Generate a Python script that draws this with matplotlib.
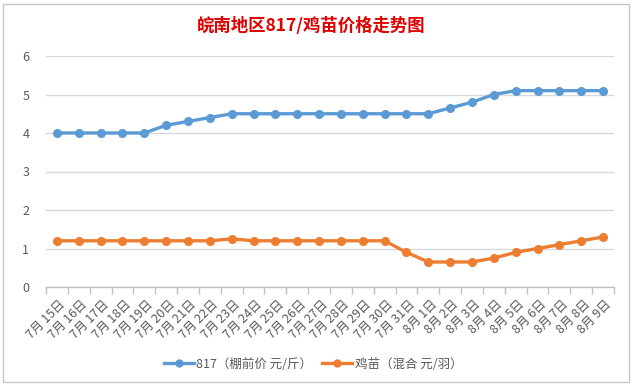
import matplotlib
matplotlib.use("Agg")
import matplotlib.pyplot as plt
import matplotlib.transforms as mtransforms
from matplotlib.patches import Rectangle
from matplotlib.lines import Line2D

plt.rcParams['font.family'] = ['Noto Sans CJK SC', 'DejaVu Sans']

categories = ["7月 15日", "7月 16日", "7月 17日", "7月 18日", "7月 19日", "7月 20日", "7月 21日",
              "7月 22日", "7月 23日", "7月 24日", "7月 25日", "7月 26日", "7月 27日", "7月 28日",
              "7月 29日", "7月 30日", "7月 31日", "8月 1日", "8月 2日", "8月 3日", "8月 4日",
              "8月 5日", "8月 6日", "8月 7日", "8月 8日", "8月 9日"]
price_817 = [4.0, 4.0, 4.0, 4.0, 4.0, 4.2, 4.3, 4.4, 4.5, 4.5, 4.5, 4.5, 4.5, 4.5,
             4.5, 4.5, 4.5, 4.5, 4.65, 4.8, 5.0, 5.1, 5.1, 5.1, 5.1, 5.1]
price_chick = [1.2, 1.2, 1.2, 1.2, 1.2, 1.2, 1.2, 1.2, 1.25, 1.2, 1.2, 1.2, 1.2, 1.2,
               1.2, 1.2, 0.9, 0.65, 0.65, 0.65, 0.75, 0.9, 1.0, 1.1, 1.2, 1.3]
series_names = ["817（棚前价 元/斤）", "鸡苗（混合 元/羽）"]
y_ticks = [0, 1, 2, 3, 4, 5, 6]
title = "皖南地区817/鸡苗价格走势图"

W, H = 633, 387
fig = plt.figure(figsize=(W / 100, H / 100), dpi=100)
fig.patch.set_facecolor("white")

# chart border
fig.add_artist(Rectangle((3 / W, 1 - 382 / H), 626 / W, 378 / H, transform=fig.transFigure,
                         fill=False, edgecolor="#C8C8C8", linewidth=1.0))

ax = fig.add_axes([46 / W, 1 - 287 / H, 568 / W, 231 / H])
x = list(range(len(categories)))
blue = "#5B9BD5"
orange = "#ED7D31"
ax.plot(x, price_817, color=blue, linewidth=2.4, marker="o", markersize=5.5, zorder=3)
ax.plot(x, price_chick, color=orange, linewidth=2.4, marker="o", markersize=5.5, zorder=3)

ax.set_xlim(-0.5, len(categories) - 0.5)
ax.set_ylim(0, 6)
ax.set_yticks(y_ticks)
ax.set_yticklabels([str(v) for v in y_ticks], fontsize=9, color="#595959")
ax.tick_params(axis="y", length=0, pad=12)
ax.grid(axis="y", color="#D9D9D9", linewidth=1.0)
ax.set_axisbelow(True)
for s in ["top", "right", "left"]:
    ax.spines[s].set_visible(False)
ax.spines["bottom"].set_color("#BFBFBF")
ax.spines["bottom"].set_linewidth(1.0)

ax.set_xticks(x)
ax.set_xticklabels(categories, rotation=45, ha="right", va="top", rotation_mode="anchor",
                   fontsize=9, color="#595959")
ax.tick_params(axis="x", length=0, pad=8)
offset = mtransforms.ScaledTranslation(2 / 100, 0, fig.dpi_scale_trans)
for lbl in ax.get_xticklabels():
    lbl.set_transform(lbl.get_transform() + offset)
ax.set_xticks([i - 0.5 for i in range(len(categories) + 1)], minor=True)
ax.tick_params(axis="x", which="minor", length=5, color="#BFBFBF", width=1.0)

fig.text(311 / W, 1 - 26 / H, title, ha="center", va="center", fontsize=12.5,
         fontweight="bold", color="#E00000")

handles = [Line2D([], [], color=blue, linewidth=2.4, marker="o", markersize=5),
           Line2D([], [], color=orange, linewidth=2.4, marker="o", markersize=5)]
leg = fig.legend(handles, series_names, loc="center", bbox_to_anchor=(313 / W, 1 - 364 / H),
                 ncol=2, frameon=False, fontsize=9, handlelength=2.4, columnspacing=0.8,
                 handletextpad=0.2)
for t in leg.get_texts():
    t.set_color("#595959")

fig.savefig("out.png", dpi=100, facecolor="white")
